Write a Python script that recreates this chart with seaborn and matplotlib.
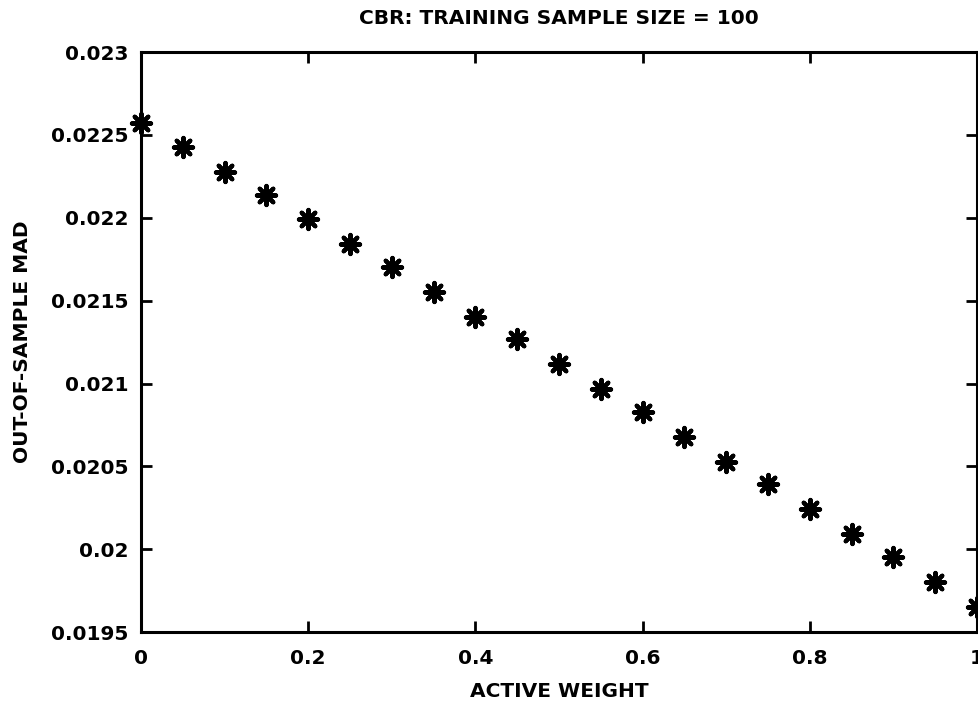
import matplotlib
matplotlib.use("Agg")
import matplotlib.pyplot as plt
import seaborn as sns
import pandas as pd

# Out-of-sample MAD versus active weight (CBR, training sample size 100)
active_weight = [0.00, 0.05, 0.10, 0.15, 0.20, 0.25, 0.30, 0.35, 0.40, 0.45,
                 0.50, 0.55, 0.60, 0.65, 0.70, 0.75, 0.80, 0.85, 0.90, 0.95, 1.00]
mad = [0.022573, 0.022425, 0.022278, 0.022139, 0.021992, 0.021841, 0.021701,
       0.021554, 0.021401, 0.021266, 0.021116, 0.020967, 0.020830, 0.020679,
       0.020528, 0.020393, 0.020241, 0.020092, 0.019951, 0.019804, 0.019651]

x_ticks = [0, 0.2, 0.4, 0.6, 0.8, 1]
x_ticklabels = ["0", "0.2", "0.4", "0.6", "0.8", "1"]
y_ticks = [0.0195, 0.020, 0.0205, 0.021, 0.0215, 0.022, 0.0225, 0.023]
y_ticklabels = ["0.0195", "0.02", "0.0205", "0.021", "0.0215", "0.022", "0.0225", "0.023"]

df = pd.DataFrame({"ACTIVE WEIGHT": active_weight, "MAD": mad})

sns.set_style("ticks")
plt.rcParams["font.family"] = ["DejaVu Sans"]
plt.rcParams["font.weight"] = "bold"
plt.rcParams["text.color"] = "black"
plt.rcParams["axes.labelcolor"] = "black"
plt.rcParams["axes.titlecolor"] = "black"

FS = 14.5

fig = plt.figure(figsize=(9.79, 7.04), dpi=100)
ax = fig.add_axes([0.144, 0.102, 0.854, 0.824])

sns.scatterplot(data=df, x="ACTIVE WEIGHT", y="MAD", ax=ax,
                marker=(8, 2, 0), s=190, color="black", edgecolor="black",
                linewidth=3.0, clip_on=False, zorder=5, legend=False)
sns.scatterplot(data=df, x="ACTIVE WEIGHT", y="MAD", ax=ax,
                marker="o", s=45, color="black", edgecolor="black",
                linewidth=0, clip_on=False, zorder=6, legend=False)

ax.set_xlim(0, 1)
ax.set_ylim(0.0195, 0.023)
ax.set_xticks(x_ticks)
ax.set_xticklabels(x_ticklabels)
ax.set_yticks(y_ticks)
ax.set_yticklabels(y_ticklabels)

ax.tick_params(direction="in", length=8, width=2, top=True, right=True,
               labelsize=FS, colors="black")
ax.tick_params(axis="x", pad=12)
ax.tick_params(axis="y", pad=9)
for lab in ax.get_xticklabels() + ax.get_yticklabels():
    lab.set_fontweight("bold")
for sp in ax.spines.values():
    sp.set_visible(True)
    sp.set_linewidth(2.2)
    sp.set_color("black")

ax.set_xlabel("ACTIVE WEIGHT", fontsize=FS, fontweight="bold", labelpad=10,
              color="black")
ax.set_ylabel("OUT-OF-SAMPLE MAD", fontsize=FS, fontweight="bold", labelpad=14,
              color="black")
ax.set_title("CBR: TRAINING SAMPLE SIZE = 100", fontsize=FS, fontweight="bold",
             pad=20, color="black")

fig.savefig("out.png", dpi=100)
